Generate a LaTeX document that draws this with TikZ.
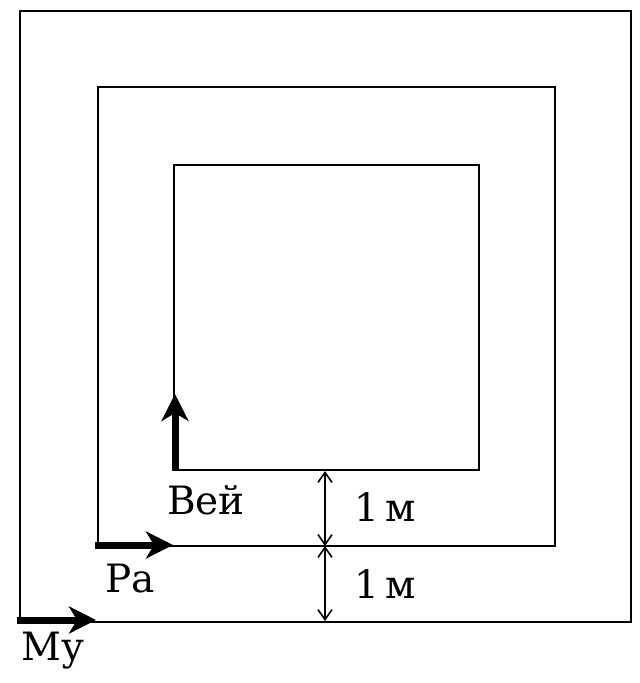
\documentclass[tikz,border=0pt]{standalone}
\usepackage{fontspec}
\setmainfont{DejaVu Serif}
\usetikzlibrary{arrows.meta}
\tikzset{
  frame/.style={draw=black, line width=2.4pt},
  walk/.style={line width=7pt, -{Stealth[length=27pt, width=27pt, inset=8pt]}},
  dim/.style={line width=1.6pt, {Straight Barb[length=10pt, width=14pt, line width=1.6pt]}-{Straight Barb[length=10pt, width=14pt, line width=1.6pt]}},
  lbl/.style={font=\fontsize{39}{42}\selectfont, inner sep=0pt}
}
\begin{document}
\begin{tikzpicture}[x=1pt, y=-1pt]
\useasboundingbox (0,0) rectangle (640,683);
% squares
\coordinate (o1) at (20,11);  \coordinate (o2) at (631,622);
\coordinate (m1) at (98,87);  \coordinate (m2) at (555,546);
\coordinate (i1) at (174,165); \coordinate (i2) at (479,470);
\draw[frame] (o1) rectangle (o2);
\draw[frame] (m1) rectangle (m2);
\draw[frame] (i1) rectangle (i2);
% walkers
\coordinate (vs) at (175,471); \coordinate (ve) at (175,394);
\coordinate (rs) at (95,545);  \coordinate (re) at (173,545);
\coordinate (ms) at (17,620);  \coordinate (me) at (96,620);
\draw[walk] (vs) -- (ve);
\draw[walk] (rs) -- (re);
\draw[walk] (ms) -- (me);
% dimension arrows
\coordinate (d1) at (325,471); \coordinate (d2) at (325,546); \coordinate (d3) at (325,621);
\draw[dim] (d1) -- (d2);
\draw[dim] (d2) -- (d3);
% labels
\node[lbl] (vey) at (206,500) {Вей};
\node[lbl] (ra)  at (130,579) {Ра};
\node[lbl] (mu)  at (53,651) {Му};
\node[lbl] (m1l) at (385,507) {1\,м};
\node[lbl] (m2l) at (385,584) {1\,м};
\end{tikzpicture}
\end{document}
